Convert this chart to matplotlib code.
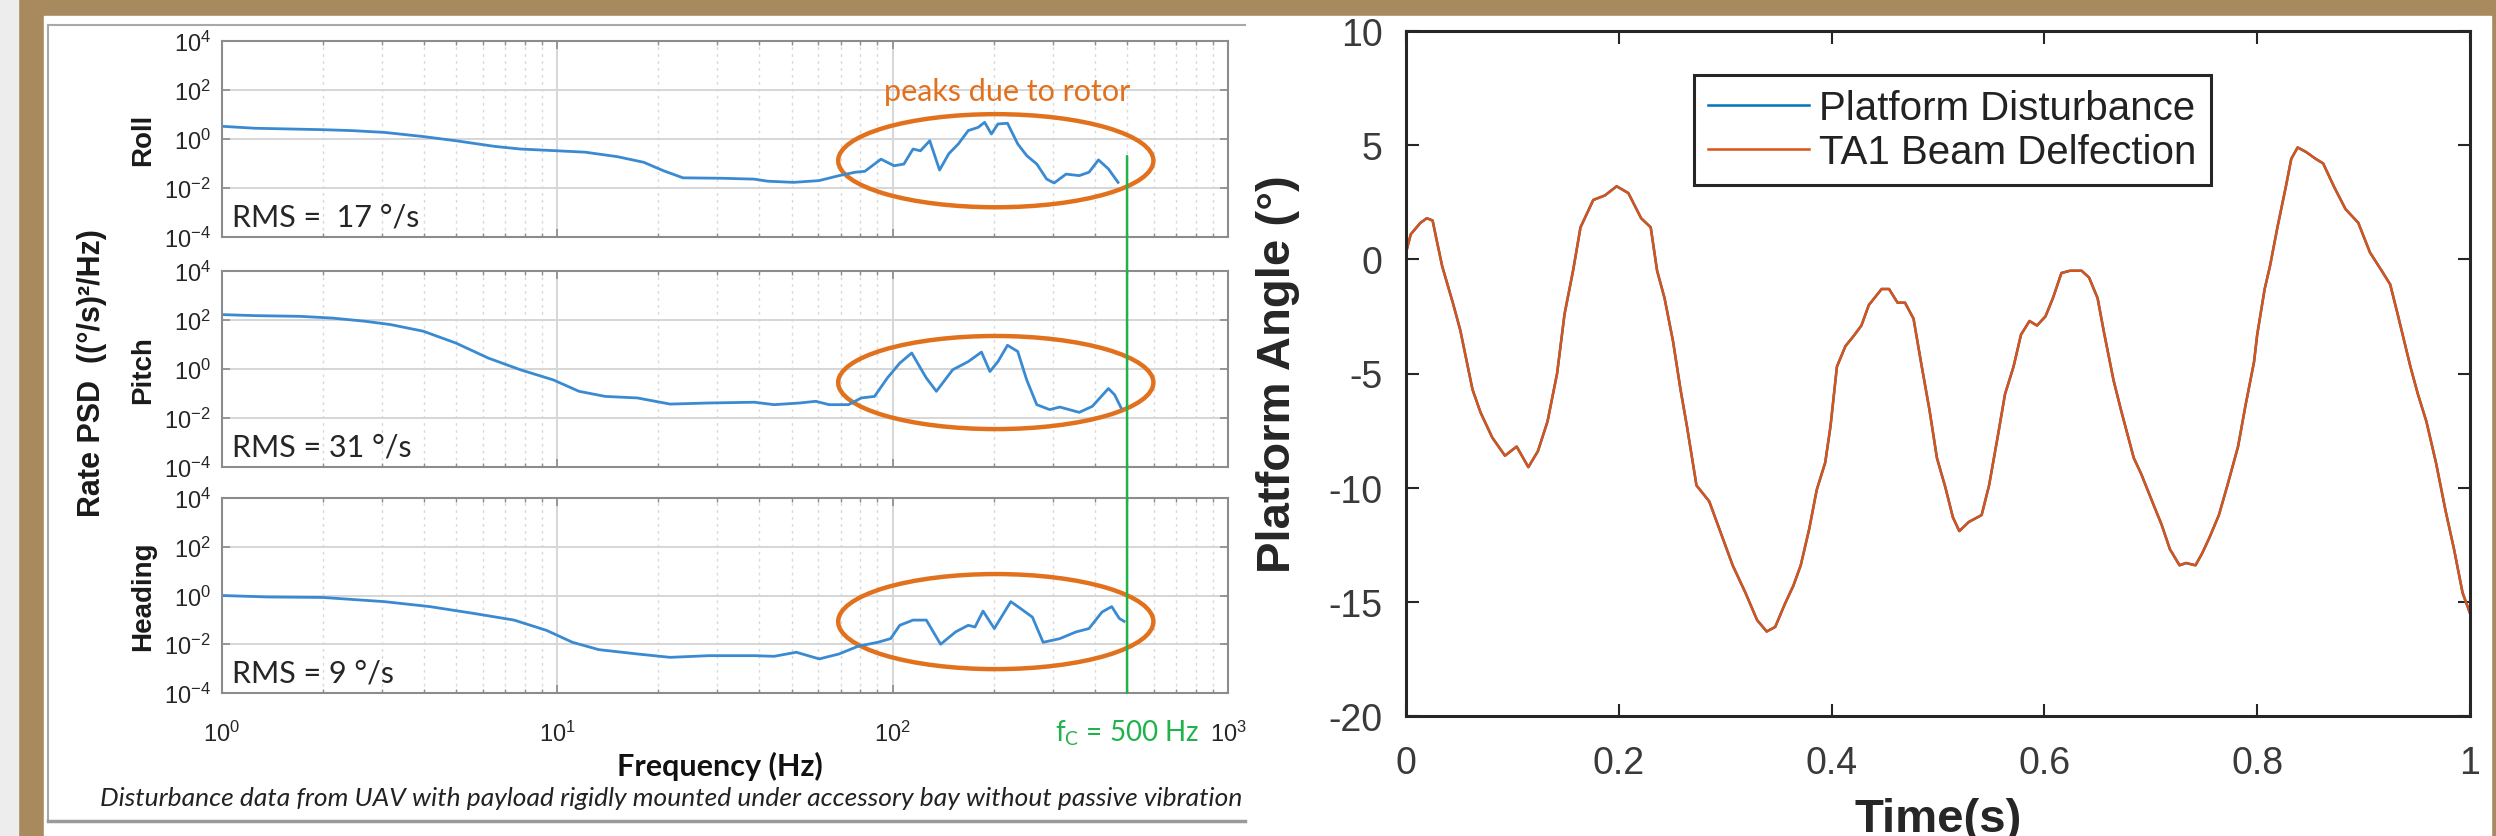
import matplotlib
matplotlib.use("Agg")
import matplotlib.pyplot as plt
from matplotlib import font_manager
from matplotlib.patches import Ellipse, Rectangle, ConnectionPatch
from matplotlib.lines import Line2D
from matplotlib.transforms import Bbox, TransformedBbox, blended_transform_factory
from matplotlib.ticker import FixedLocator, LogLocator, NullLocator, LogFormatterMathtext
import numpy as np

# ---------------- data ----------------
# UAV rate PSD, roll axis
roll_freq = [1, 1.25, 2.0, 2.44, 3.05, 3.98, 4.98, 6.5, 7.76, 10, 12.1, 15.1, 18.1, 20.7,
             23.7, 30.9, 38.7, 42.3, 50.6, 60.3, 69.2, 77.3, 82.6, 92.3, 101, 108, 115, 121,
             129, 138, 147, 157, 168, 180, 188, 197, 206, 220, 236, 251, 269, 288, 303, 329,
             360, 385, 411, 440, 470]
roll_psd = [3.3, 2.75, 2.4, 2.2, 1.86, 1.26, 0.85, 0.50, 0.39, 0.33, 0.29, 0.19, 0.112, 0.051,
            0.026, 0.025, 0.023, 0.019, 0.017, 0.020, 0.032, 0.044, 0.048, 0.15, 0.081, 0.095,
            0.39, 0.33, 0.85, 0.054, 0.25, 0.63, 2.2, 3.0, 4.8, 1.6, 4.1, 4.4, 0.63, 0.21,
            0.095, 0.023, 0.016, 0.037, 0.032, 0.044, 0.14, 0.060, 0.017]

# pitch axis
pitch_freq = [1, 1.25, 1.71, 2.13, 2.67, 3.18, 3.98, 4.98, 6.22, 7.76, 9.72, 11.6, 13.9, 17.3,
              21.7, 28.3, 38.7, 44.3, 52.8, 59.0, 64.6, 73.8, 80.7, 88.3, 96.4, 105, 114, 121,
              126, 135, 151, 168, 184, 195, 206, 220, 236, 251, 269, 294, 315, 360, 394, 440,
              459, 480]
pitch_psd = [166, 151, 141, 120, 89, 65, 35, 11.5, 2.8, 0.93, 0.36, 0.123, 0.076, 0.066,
             0.037, 0.041, 0.044, 0.035, 0.041, 0.048, 0.035, 0.035, 0.066, 0.076, 0.43, 1.74,
             4.5, 1.1, 0.43, 0.123, 0.93, 2.0, 4.9, 0.79, 2.0, 9.3, 5.2, 0.36, 0.035, 0.022,
             0.028, 0.017, 0.030, 0.16, 0.089, 0.026]

# heading axis
head_freq = [1, 1.37, 2.0, 3.05, 4.17, 5.69, 7.43, 9.29, 11.1, 13.3, 17.3, 21.7, 28.3, 38.7,
             44.3, 51.6, 60.4, 69.2, 78.9, 90.2, 98.6, 105, 115, 126, 139, 154, 168, 176, 186,
             201, 225, 240, 261, 281, 315, 352, 385, 421, 450, 474, 490]
head_psd = [1.0, 0.87, 0.83, 0.56, 0.35, 0.18, 0.098, 0.037, 0.012, 0.006, 0.004, 0.0029,
            0.0034, 0.0034, 0.0032, 0.0047, 0.0025, 0.004, 0.0083, 0.012, 0.017, 0.060, 0.098,
            0.098, 0.010, 0.032, 0.060, 0.051, 0.23, 0.044, 0.56, 0.30, 0.13, 0.012, 0.017,
            0.032, 0.044, 0.21, 0.35, 0.115, 0.087]

panel_names = ["Roll", "Pitch", "Heading"]
rms_labels = ["RMS =  17 °/s", "RMS = 31 °/s", "RMS = 9 °/s"]
cutoff_hz = 500

# annotation ellipses around the rotor peaks (centre freq, centre psd, span in decades)
ring_center_hz = [203, 203, 203]
ring_center_psd = [0.13, 0.28, 0.085]
ring_span_x = 0.94
ring_span_y = [3.8, 3.8, 3.9]

# platform angle time history
time_s = [0, 0.0045, 0.0136, 0.0196, 0.025, 0.029, 0.034, 0.044, 0.051, 0.0625, 0.07, 0.081,
          0.093, 0.104, 0.115, 0.124, 0.133, 0.142, 0.149, 0.157, 0.164, 0.176, 0.187, 0.198,
          0.209, 0.221, 0.230, 0.236, 0.243, 0.251, 0.258, 0.264, 0.273, 0.285, 0.296, 0.307,
          0.319, 0.330, 0.339, 0.347, 0.356, 0.364, 0.371, 0.379, 0.386, 0.394, 0.399, 0.405,
          0.413, 0.420, 0.428, 0.435, 0.447, 0.454, 0.462, 0.469, 0.477, 0.484, 0.492, 0.499,
          0.507, 0.514, 0.520, 0.529, 0.541, 0.548, 0.556, 0.563, 0.571, 0.578, 0.586, 0.593,
          0.601, 0.608, 0.616, 0.624, 0.635, 0.642, 0.650, 0.656, 0.665, 0.672, 0.684, 0.691,
          0.703, 0.710, 0.718, 0.727, 0.733, 0.742, 0.748, 0.755, 0.764, 0.772, 0.782, 0.789,
          0.797, 0.800, 0.807, 0.812, 0.819, 0.827, 0.832, 0.838, 0.846, 0.855, 0.862, 0.872,
          0.883, 0.895, 0.906, 0.917, 0.925, 0.932, 0.944, 0.951, 0.959, 0.968, 0.977, 0.985,
          0.993, 1.0]
platform_disturbance = [0.3, 1.1, 1.6, 1.8, 1.7, 0.8, -0.3, -1.9, -3.1, -5.7, -6.7, -7.8,
                        -8.6, -8.2, -9.1, -8.4, -7.1, -5.0, -2.4, -0.5, 1.4, 2.6, 2.8, 3.2,
                        2.9, 1.8, 1.4, -0.5, -1.7, -3.6, -5.7, -7.3, -9.9, -10.6, -12.0, -13.4,
                        -14.6, -15.8, -16.3, -16.1, -15.1, -14.3, -13.4, -11.8, -10.1, -8.9,
                        -7.3, -4.7, -3.8, -3.4, -2.9, -2.0, -1.3, -1.3, -1.9, -1.9, -2.6, -4.5,
                        -6.6, -8.7, -10.0, -11.3, -11.9, -11.5, -11.2, -9.9, -7.8, -5.9, -4.7,
                        -3.3, -2.7, -2.9, -2.5, -1.7, -0.6, -0.5, -0.5, -0.8, -1.7, -3.2, -5.3,
                        -6.6, -8.7, -9.4, -10.8, -11.6, -12.7, -13.4, -13.3, -13.4, -12.9,
                        -12.2, -11.2, -9.9, -8.2, -6.4, -4.5, -3.3, -1.3, -0.3, 1.4, 3.2, 4.4,
                        4.9, 4.7, 4.4, 4.2, 3.2, 2.2, 1.6, 0.3, -0.5, -1.1, -2.4, -4.7, -5.9,
                        -7.1, -8.9, -11.0, -12.7, -14.6, -15.5]
# the beam follows the platform so closely that the two traces overlap
beam_deflection = list(platform_disturbance)

time_ticks = [0, 0.2, 0.4, 0.6, 0.8, 1]
time_tick_labels = ["0", "0.2", "0.4", "0.6", "0.8", "1"]
angle_ticks = [-20, -15, -10, -5, 0, 5, 10]

# ---------------- styling ----------------
plt.rcParams["font.family"] = "Liberation Sans"
plt.rcParams["mathtext.default"] = "regular"
plt.rcParams["axes.unicode_minus"] = False

names = {f.name for f in font_manager.fontManager.ttflist}
note_font = "Lato" if "Lato" in names else "DejaVu Sans"

TAN = "#A98A5F"
PSD_BLUE = "#3A8AD2"
RING = "#E2711D"
GREEN = "#22B24C"
DARK = "#262626"

W, H = 2496, 837


def fx(x):
    return x / W


def fy(y):
    return 1 - y / H


fig = plt.figure(figsize=(W / 100, H / 100), dpi=100, facecolor=TAN)

# slide background: grey strip, tan frame, white content area
fig.add_artist(Rectangle((0, 0), fx(18), 1, transform=fig.transFigure, color="#EDEDED", zorder=-5))
fig.add_artist(Rectangle((fx(44), fy(836)), fx(2491) - fx(44), fy(17) - fy(836),
                         transform=fig.transFigure, color="white", zorder=-5))
# border of the pasted PSD screenshot
fig.add_artist(Line2D([fx(48), fx(1245)], [fy(26), fy(26)], transform=fig.transFigure,
                      color="#A8A8A8", lw=1.5, zorder=-4))
fig.add_artist(Line2D([fx(48), fx(48)], [fy(26), fy(822)], transform=fig.transFigure,
                      color="#A8A8A8", lw=1.5, zorder=-4))
fig.add_artist(Line2D([fx(48), fx(1245)], [fy(822), fy(822)], transform=fig.transFigure,
                      color="#9A9A9A", lw=2.5, zorder=-4))

# ---------------- left: PSD panels ----------------
panel_rows = [(42, 238), (272, 468), (499, 694)]
series = [(roll_freq, roll_psd), (pitch_freq, pitch_psd), (head_freq, head_psd)]
axes_left = []

for i, (top, bot) in enumerate(panel_rows):
    ax = fig.add_axes([fx(222), fy(bot), fx(1228) - fx(222), (bot - top) / H])
    freq, psd = series[i]
    ax.plot(freq, psd, color=PSD_BLUE, lw=2.0)
    ax.set_xscale("log")
    ax.set_yscale("log")
    ax.set_xlim(1, 1000)
    ax.set_ylim(1e-4, 1e4)

    ax.yaxis.set_major_locator(FixedLocator([1e-4, 1e-2, 1, 1e2, 1e4]))
    ax.yaxis.set_minor_locator(NullLocator())
    ax.yaxis.set_major_formatter(LogFormatterMathtext())
    ax.xaxis.set_major_locator(LogLocator(base=10))
    ax.xaxis.set_minor_locator(LogLocator(base=10, subs=range(2, 10)))
    ax.xaxis.set_major_formatter(LogFormatterMathtext())

    ax.grid(True, which="major", color="#D6D6D6", lw=1.4, ls="-")
    ax.grid(True, which="minor", axis="x", color="#D9D9D9", lw=1.0, ls=(0, (2, 3)))
    ax.set_axisbelow(True)
    for sp in ax.spines.values():
        sp.set_color("#8C8C8C")
        sp.set_linewidth(1.5)
    ax.tick_params(which="both", direction="in", top=True, right=True, color="#8C8C8C",
                   labelsize=17, labelcolor=DARK)
    ax.tick_params(which="major", length=6, width=1.2)
    ax.tick_params(which="minor", length=3, width=1.0)
    ax.tick_params(axis="y", pad=8)
    ax.tick_params(axis="x", pad=20)
    if i < 2:
        ax.tick_params(labelbottom=False)

    ax.set_ylabel(panel_names[i], fontsize=20, fontweight="bold", color="#1A1A1A", va="center")
    ax.yaxis.set_label_coords(-0.0785, 0.5)

    ax.text(0.01, 0.107, rms_labels[i], transform=ax.transAxes, family=note_font,
            fontsize=22, color=DARK, ha="left", va="center")

    ring_x = np.log10(ring_center_hz[i]) / 3
    ring_y = (np.log10(ring_center_psd[i]) + 4) / 8
    ax.add_patch(Ellipse((ring_x, ring_y), ring_span_x / 3, ring_span_y[i] / 8,
                         transform=ax.transAxes, fill=False, ec=RING, lw=3.2, clip_on=False))
    axes_left.append(ax)

ax_roll, ax_pitch, ax_head = axes_left
ax_roll.text(0.78, 0.745, "peaks due to rotor", transform=ax_roll.transAxes, family=note_font,
             fontsize=22, color=RING, ha="center", va="center")

ax_head.set_xlabel("Frequency (Hz)", family=note_font, fontsize=22, fontweight="bold",
                   color="#111111", va="center")
ax_head.xaxis.set_label_coords(0.495, -0.374)

# cutoff frequency marker running through all three panels
fig.add_artist(ConnectionPatch(xyA=(cutoff_hz, 0.2), coordsA=ax_roll.transData,
                               xyB=(cutoff_hz, 1e-4), coordsB=ax_head.transData,
                               color=GREEN, lw=1.8, zorder=5))
ax_head.text(cutoff_hz, -0.2, r"f$_{\mathregular{C}}$ = 500 Hz",
             transform=blended_transform_factory(ax_head.transData, ax_head.transAxes),
             family=note_font, fontsize=20, color=GREEN, ha="center", va="center")

fig.text(fx(92), fy(373), "Rate PSD  ((°/s)²/Hz)", rotation=90, fontsize=22,
         fontweight="bold", color="#1A1A1A", ha="center", va="center")

caption = fig.text(fx(100), fy(799),
                   "Disturbance data from UAV with payload rigidly mounted under accessory bay "
                   "without passive vibration isolation",
                   family=note_font, style="italic", fontsize=19, color="#222222",
                   ha="left", va="center")
caption.set_clip_box(TransformedBbox(Bbox([[0, 0], [fx(1245), 1]]), fig.transFigure))
caption.set_clip_on(True)

# ---------------- right: platform angle ----------------
ax_r = fig.add_axes([fx(1406), fy(717), fx(2470) - fx(1406), (717 - 32) / H])
ax_r.plot(time_s, platform_disturbance, color="#0072BD", lw=1.8, label="Platform Disturbance")
ax_r.plot(time_s, beam_deflection, color="#D95319", lw=1.8, label="TA1 Beam Delfection")
ax_r.set_xlim(0, 1)
ax_r.set_ylim(-20, 10)
ax_r.set_xticks(time_ticks, time_tick_labels)
ax_r.set_yticks(angle_ticks)
for sp in ax_r.spines.values():
    sp.set_color(DARK)
    sp.set_linewidth(2.2)
ax_r.tick_params(direction="in", top=True, right=True, length=9, width=1.5, color=DARK,
                 labelsize=27, labelcolor="#3A3A3A")
ax_r.tick_params(axis="x", pad=21)
ax_r.tick_params(axis="y", pad=17)
ax_r.set_xlabel("Time(s)", fontsize=34, fontweight="bold", color=DARK, va="center")
ax_r.xaxis.set_label_coords(0.5, -0.150)
ax_r.set_ylabel("Platform Angle (°)", fontsize=34, fontweight="bold", color=DARK, va="center")
ax_r.yaxis.set_label_coords(-0.120, 0.5)

leg = ax_r.legend(loc="upper left", bbox_to_anchor=(0.271, 0.936), borderaxespad=0,
                  fontsize=29, handlelength=2.5, handletextpad=0.25, labelspacing=0.15,
                  borderpad=0.35, fancybox=False, framealpha=1, edgecolor=DARK)
leg.get_frame().set_linewidth(2.2)
for t in leg.get_texts():
    t.set_color("#222222")

fig.savefig("out.png", dpi=100, facecolor=TAN)
